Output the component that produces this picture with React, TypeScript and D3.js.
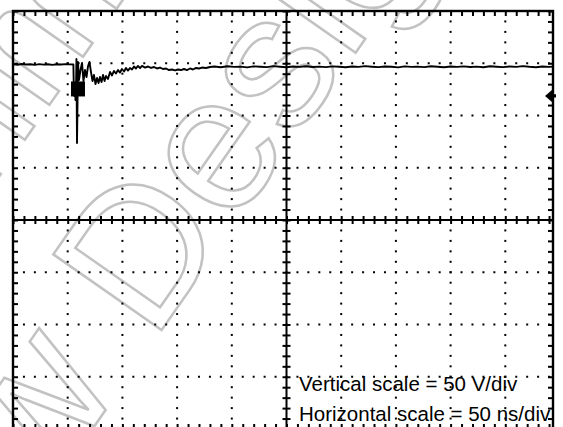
import { useEffect, useRef } from "react";
import * as d3 from "d3";

const WIDTH = 563;
const HEIGHT = 427;

// scope settings
const NS_PER_DIV = 50;
const V_PER_DIV = 50;
const H_DIVS = 10;
const V_DIVS = 8;
const MINOR_PER_DIV = 5;

const SCALE_LABELS = [
  "Vertical scale = 50 V/div",
  "Horizontal scale = 50 ns/div",
];
const WATERMARK_LINES = ["Not Recommended for", "New Designs"];

// trace as [time ns, level V]
const PRE_STEP = [
  [0, 149.0], [4, 148.6], [8, 149.3], [12, 148.8], [16, 149.1], [20, 148.5],
  [24, 149.2], [28, 148.7], [32, 149.0], [36, 148.4], [40, 149.1], [44, 148.8],
  [48, 149.2], [52, 148.9], [55.2, 148.8],
];

const STEP_EDGE = [
  [55.6, 124.4], [56.2, 118.7], [56.7, 130.1], [57.1, 114.8], [57.6, 126.3],
  [58.0, 154.1], [58.5, 73.7], [59.0, 114.8], [59.4, 151.2], [60.3, 133.9],
];

const RINGING = [
  [61.7, 143.5], [63.1, 150.3], [64.4, 133.0], [65.8, 143.5], [67.2, 136.8],
  [68.6, 147.4], [69.9, 151.2], [71.3, 141.6], [72.7, 133.0], [74.0, 138.8],
  [75.4, 130.1], [76.8, 135.9], [78.2, 131.1], [79.5, 136.8], [80.9, 132.0],
  [82.3, 138.8], [83.7, 133.0], [85.0, 137.8], [86.8, 134.9], [88.7, 141.6],
  [90.5, 138.3], [92.3, 142.6], [94.1, 140.2], [96.0, 143.5], [97.8, 141.1],
  [99.6, 144.5], [101.5, 142.1], [103.3, 145.5], [105.1, 143.0], [106.9, 145.5],
  [108.8, 144.0], [110.6, 146.9], [112.4, 145.0], [114.3, 147.4], [116.1, 145.4],
  [117.9, 147.4], [120.7, 145.9], [123.4, 146.9], [126.1, 145.5], [128.9, 146.4],
  [131.6, 145.0], [134.4, 145.9], [137.1, 144.5], [139.9, 145.0], [142.6, 143.5],
  [145.3, 144.0], [148.1, 143.1], [150.8, 144.0], [153.6, 143.5], [156.3, 144.5],
  [159.0, 143.5], [161.8, 145.0], [164.5, 144.0], [167.3, 145.5], [170.0, 145.0],
  [172.8, 145.9], [176.4, 145.5], [180.1, 146.4],
];

const SETTLED = [
  [184, 146.9], [190, 146.2], [196, 147.1], [202, 146.5], [208, 146.8],
  [214, 146.1], [220, 147.0], [226, 146.6], [232, 146.3], [238, 147.2],
  [244, 146.7], [250, 146.2], [256, 146.9], [262, 146.5], [268, 147.1],
  [274, 146.4], [280, 146.8], [286, 146.3], [292, 147.0], [298, 146.6],
  [304, 146.2], [310, 146.9], [316, 146.5], [322, 147.2], [328, 146.7],
  [334, 146.3], [340, 146.9], [346, 146.6], [352, 146.1], [358, 147.0],
  [364, 146.5], [370, 146.8], [376, 146.3], [382, 147.1], [388, 146.6],
  [394, 146.2], [400, 146.9], [406, 146.5], [412, 147.0], [418, 146.4],
  [424, 146.8], [430, 146.2], [436, 147.1], [442, 146.7], [448, 146.3],
  [454, 146.9], [460, 146.5], [466, 147.2], [472, 146.6], [478, 146.2],
  [484, 146.9], [490, 146.5], [494, 146.8],
];

// trigger point box and channel reference marker
const TRIGGER_MARK = [59.4, 125.4];
const REF_LEVEL_V = 118.7;

const Scope = () => {
  const ref = useRef(null);

  useEffect(() => {
    document.body.style.margin = "0";
    if (!ref.current) return;
    d3.select(ref.current).selectAll("*").remove();

    const marginLeft = 13;
    const marginTop = 11;
    const frameRight = 553;
    const frameBottom = 429;

    const tMax = H_DIVS * NS_PER_DIV;
    const vMax = (V_DIVS / 2) * V_PER_DIV;

    const x = d3.scaleLinear().domain([0, tMax]).range([marginLeft, 560]);
    const y = d3
      .scaleLinear()
      .domain([-vMax, vMax])
      .range([frameBottom, marginTop]);

    const svg = d3
      .select(ref.current)
      .attr("width", WIDTH)
      .attr("height", HEIGHT)
      .attr("viewBox", [0, 0, WIDTH, HEIGHT])
      .style("display", "block")
      .style("background", "#fff");

    // Watermark
    const wm = svg
      .append("g")
      .attr("transform", "translate(226,238) rotate(-55)")
      .attr("fill", "none")
      .attr("stroke", "#c2c2c2")
      .attr("stroke-width", 2.5)
      .attr("font-family", "'Liberation Sans', Arial, sans-serif")
      .attr("font-size", 192)
      .attr("text-anchor", "middle");
    WATERMARK_LINES.forEach((line, i) => {
      wm.append("text")
        .attr("x", 0)
        .attr("y", (i - 1) * 221)
        .text(line);
    });

    const minorT = d3.range(0, tMax + 1, NS_PER_DIV / MINOR_PER_DIV);
    const minorV = d3.range(-vMax, vMax + 1, V_PER_DIV / MINOR_PER_DIV);
    const edgeT = minorT.filter((t) => x(t) < frameRight - 2);
    const majorT = d3
      .range(1, H_DIVS)
      .map((i) => i * NS_PER_DIV)
      .filter((t) => t !== tMax / 2);
    const majorV = d3
      .range(1, V_DIVS)
      .map((i) => -vMax + i * V_PER_DIV)
      .filter((v) => v !== 0);

    // Dotted graticule
    const dots = svg.append("g").attr("fill", "#000");
    majorT.forEach((t) => {
      dots
        .selectAll(null)
        .data(minorV)
        .join("rect")
        .attr("x", x(t) - 1)
        .attr("y", (v) => y(v) - 1)
        .attr("width", 2)
        .attr("height", 2);
    });
    majorV.forEach((v) => {
      dots
        .selectAll(null)
        .data(edgeT)
        .join("rect")
        .attr("x", (t) => x(t) - 1)
        .attr("y", y(v) - 1)
        .attr("width", 2)
        .attr("height", 2);
    });

    // Tick rows: frame edges point inward, center axes cross both ways
    const tickAxis = (g) => {
      g.select(".domain").remove();
      g.selectAll(".tick text").remove();
      g.selectAll(".tick line").attr("stroke", "#000").attr("stroke-width", 2);
    };
    svg
      .append("g")
      .attr("transform", `translate(0,${marginTop})`)
      .call(d3.axisBottom(x).tickValues(edgeT).tickSize(5))
      .call(tickAxis);
    svg
      .append("g")
      .attr("transform", `translate(0,${frameBottom})`)
      .call(d3.axisTop(x).tickValues(edgeT).tickSize(5))
      .call(tickAxis);
    svg
      .append("g")
      .attr("transform", `translate(${marginLeft},0)`)
      .call(d3.axisRight(y).tickValues(minorV).tickSize(5))
      .call(tickAxis);
    svg
      .append("g")
      .attr("transform", `translate(${frameRight},0)`)
      .call(d3.axisLeft(y).tickValues(minorV).tickSize(5))
      .call(tickAxis);
    svg
      .append("g")
      .attr("transform", `translate(0,${y(0) - 4})`)
      .call(d3.axisBottom(x).tickValues(edgeT).tickSize(8))
      .call(tickAxis);
    svg
      .append("g")
      .attr("transform", `translate(${x(tMax / 2) - 4},0)`)
      .call(d3.axisRight(y).tickValues(minorV).tickSize(8))
      .call(tickAxis);

    // Center axes
    const axes = svg
      .append("g")
      .attr("stroke", "#000")
      .attr("stroke-width", 2);
    axes
      .append("line")
      .attr("x1", x(tMax / 2))
      .attr("x2", x(tMax / 2))
      .attr("y1", marginTop)
      .attr("y2", frameBottom);
    axes
      .append("line")
      .attr("x1", marginLeft)
      .attr("x2", frameRight)
      .attr("y1", y(0))
      .attr("y2", y(0));

    // Frame
    svg
      .append("rect")
      .attr("x", marginLeft)
      .attr("y", marginTop)
      .attr("width", frameRight - marginLeft)
      .attr("height", frameBottom - marginTop)
      .attr("fill", "none")
      .attr("stroke", "#000")
      .attr("stroke-width", 2.4);

    // Trace
    const trace = [...PRE_STEP, ...STEP_EDGE, ...RINGING, ...SETTLED];
    const line = d3
      .line()
      .x((d) => x(d[0]))
      .y((d) => y(d[1]));
    svg
      .append("path")
      .attr("fill", "none")
      .attr("stroke", "#000")
      .attr("stroke-width", 1.9)
      .attr("stroke-linejoin", "round")
      .attr("d", line(trace));

    // Trigger box
    svg
      .append("rect")
      .attr("x", x(TRIGGER_MARK[0]) - 7)
      .attr("y", y(TRIGGER_MARK[1]) - 7.5)
      .attr("width", 14)
      .attr("height", 15)
      .attr("fill", "#000");

    // Reference level arrow on the right edge
    const ry = y(REF_LEVEL_V);
    svg
      .append("path")
      .attr("fill", "#000")
      .attr(
        "d",
        `M${frameRight - 8},${ry} L${frameRight - 1},${ry - 6} L${frameRight - 1},${ry + 6} Z M${frameRight - 2},${ry - 1.6} h5 v3.2 h-5 Z`
      );

    // Scale labels
    svg
      .append("g")
      .attr("font-family", "'Liberation Sans', Arial, sans-serif")
      .attr("font-size", 20.5)
      .attr("fill", "#000")
      .selectAll("text")
      .data(SCALE_LABELS)
      .join("text")
      .attr("x", 299)
      .attr("y", (d, i) => 391 + i * 30)
      .text((d) => d);
  }, []);

  return <svg ref={ref} />;
};

export default function App() {
  return <Scope />;
}
